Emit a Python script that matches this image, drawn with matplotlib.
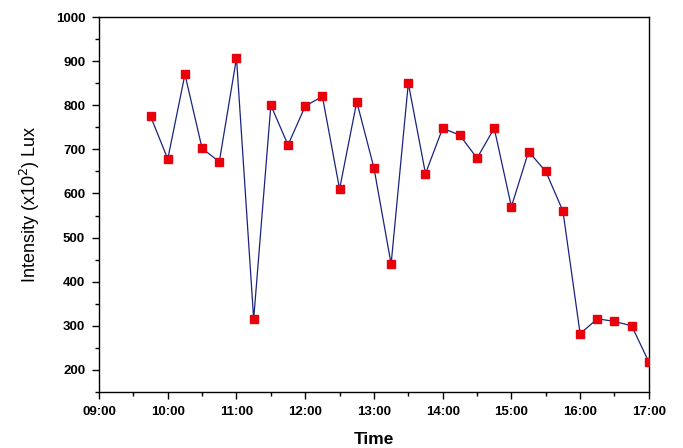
import matplotlib
matplotlib.use("Agg")
import matplotlib.pyplot as plt
from matplotlib.ticker import MultipleLocator, FuncFormatter

times = ["09:45", "10:00", "10:15", "10:30", "10:45", "11:00", "11:15", "11:30",
         "11:45", "12:00", "12:15", "12:30", "12:45", "13:00", "13:15", "13:30",
         "13:45", "14:00", "14:15", "14:30", "14:45", "15:00", "15:15", "15:30",
         "15:45", "16:00", "16:15", "16:30", "16:45", "17:00"]
intensity = [775, 678, 870, 702, 672, 907, 315, 800, 710, 798, 820, 610, 808, 658,
             440, 850, 645, 748, 732, 680, 748, 570, 695, 650, 560, 282, 316, 310,
             300, 218]

hours = [int(t[:2]) + int(t[3:]) / 60 for t in times]

fig = plt.figure(figsize=(6.83, 4.48), dpi=100)
ax = fig.add_axes([0.145, 0.125, 0.805, 0.837])
ax.plot(hours, intensity, color="#1a237e", lw=0.9, marker="s", ms=6,
        mfc="#e8000b", mec="#e8000b", zorder=3)

ax.set_xlim(9, 17)
ax.set_ylim(150, 1000)
ax.xaxis.set_major_locator(MultipleLocator(1))
ax.xaxis.set_minor_locator(MultipleLocator(0.5))
ax.yaxis.set_minor_locator(MultipleLocator(50))
ax.set_yticks(range(200, 1001, 100))
ax.xaxis.set_major_formatter(FuncFormatter(lambda v, p: f"{int(round(v)):02d}:00"))
ax.tick_params(which="major", direction="out", length=5, width=1, labelsize=9.5, pad=5)
ax.tick_params(which="minor", direction="out", length=3, width=1)
for lab in ax.get_xticklabels() + ax.get_yticklabels():
    lab.set_fontweight("bold")
    lab.set_family("Liberation Sans")
ax.set_xlabel("Time", fontsize=12.5, fontweight="bold", family="Liberation Sans", labelpad=10)
ax.set_ylabel("Intensity (x10$^2$) Lux", fontsize=13, family="Liberation Sans", labelpad=10)
for s in ax.spines.values():
    s.set_linewidth(1)

fig.savefig("out.png", dpi=100)
